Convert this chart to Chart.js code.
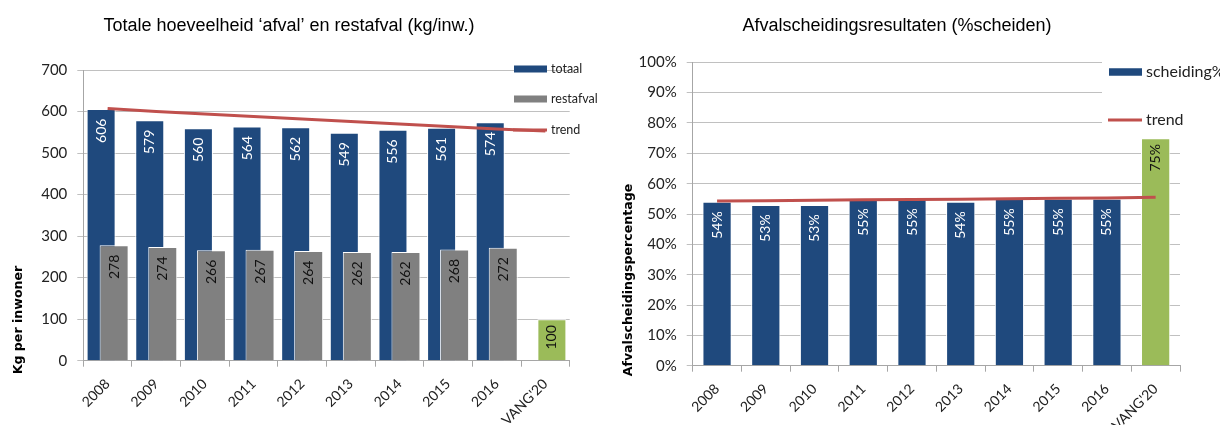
<!DOCTYPE html>
<html>
<head>
<meta charset="utf-8">
<script src="https://cdn.jsdelivr.net/npm/chart.js@4"></script>
<style>
  html, body { margin: 0; padding: 0; background: #ffffff; }
  #wrap { position: relative; width: 1220px; height: 425px; overflow: hidden; }
  .panel { position: absolute; top: 0; width: 610px; height: 425px; }
</style>
</head>
<body>
<div id="wrap">
  <div class="panel" style="left:0"><canvas id="kg" width="610" height="425"></canvas></div>
  <div class="panel" style="left:610px"><canvas id="pct" width="610" height="425"></canvas></div>
</div>
<script>
// Categories (years plus the VANG 2020 target)
const categories = ['2008', '2009', '2010', '2011', '2012', '2013', '2014', '2015', '2016', "VANG'20"];

// Left chart: kg per inhabitant
const totaal    = [606, 579, 560, 564, 562, 549, 556, 561, 574, null];
const restafval = [278, 274, 266, 267, 264, 262, 262, 268, 272, 100];
const trendKg   = [607, 600, 594, 588, 582, 576, 570, 564, 558, 553];
const kgTicks   = [0, 100, 200, 300, 400, 500, 600, 700];

// Right chart: separation percentage
const scheiding = [54, 53, 53, 55, 55, 54, 55, 55, 55, 75];
const trendPct  = [54.3, 54.4, 54.5, 54.7, 54.8, 54.9, 55.0, 55.2, 55.3, 55.5];
const pctTicks  = [0, 10, 20, 30, 40, 50, 60, 70, 80, 90, 100];

const BLUE = '#1F497D';
const GREY = '#808080';
const GREEN = '#9BBB59';
const RED = '#C0504D';
const GRID = '#C0C0C0';
const AXIS = '#A6A6A6';
const TEXT = '#222222';
const TARGET = "VANG'20";

const tickFont = { family: 'Lato', size: 15 };
const xFont = { family: 'Lato', size: 14, lineHeight: 0.8 };

// Title centred above each panel
function titlePlugin(text, cx) {
  return {
    id: 'panelTitle',
    afterDraw(chart) {
      const ctx = chart.ctx;
      ctx.save();
      ctx.font = '18px "Liberation Sans", Arial, sans-serif';
      ctx.fillStyle = '#000';
      ctx.textAlign = 'center';
      ctx.textBaseline = 'alphabetic';
      ctx.fillText(text, cx, 31);
      ctx.restore();
    }
  };
}

// Vertical axis title
function yTitlePlugin(text, cx, cy) {
  return {
    id: 'yTitle',
    afterDraw(chart) {
      const ctx = chart.ctx;
      ctx.save();
      ctx.translate(cx, cy);
      ctx.rotate(-Math.PI / 2);
      ctx.font = 'bold 12.6px "DejaVu Sans", sans-serif';
      ctx.fillStyle = '#000';
      ctx.textAlign = 'center';
      ctx.textBaseline = 'middle';
      ctx.fillText(text, 0, 0);
      ctx.restore();
    }
  };
}

// Rotated value labels inside the top of each bar
function barLabelPlugin(items) {
  return {
    id: 'barLabels',
    afterDatasetsDraw(chart) {
      const ctx = chart.ctx;
      items.forEach(({ index, suffix }) => {
        const meta = chart.getDatasetMeta(index);
        const data = chart.data.datasets[index].data;
        meta.data.forEach((el, i) => {
          const v = data[i];
          if (v === null || v === undefined) return;
          const isTarget = categories[i] === TARGET;
          const onBlue = !isTarget && chart.data.datasets[index].backgroundColor === BLUE;
          const gap = isTarget ? 6 : 9.5;
          ctx.save();
          ctx.translate(el.x, el.y + gap);
          ctx.rotate(-Math.PI / 2);
          ctx.font = '14px Lato, sans-serif';
          ctx.fillStyle = onBlue ? '#ffffff' : '#111111';
          ctx.textAlign = 'right';
          ctx.textBaseline = 'middle';
          ctx.fillText(String(v) + suffix, 0, 0);
          ctx.restore();
        });
      });
    }
  };
}

// Legend drawn inside the plot, at the right-hand side
function legendPlugin(entries, opts) {
  return {
    id: 'sideLegend',
    afterDraw(chart) {
      const ctx = chart.ctx;
      ctx.save();
      if (opts.background) {
        const b = opts.background;
        ctx.fillStyle = '#ffffff';
        ctx.fillRect(b.x, b.y, b.w, b.h);
      }
      ctx.font = opts.fontSize + 'px Lato, sans-serif';
      ctx.textAlign = 'left';
      ctx.textBaseline = 'middle';
      entries.forEach(e => {
        if (e.kind === 'box') {
          ctx.fillStyle = e.color;
          ctx.fillRect(opts.x, e.y - opts.boxH / 2, opts.boxW, opts.boxH);
        } else {
          ctx.strokeStyle = e.color;
          ctx.lineWidth = 3;
          ctx.beginPath();
          ctx.moveTo(opts.x - 1, e.y);
          ctx.lineTo(opts.x + opts.boxW, e.y);
          ctx.stroke();
        }
        ctx.fillStyle = TEXT;
        ctx.fillText(e.label, opts.x + opts.boxW + 4, e.y);
      });
      ctx.restore();
    }
  };
}

// Grey bars overlap the blue ones: draw them right after the blue series
const layerPlugin = {
  id: 'layering',
  beforeDatasetDraw(chart, args) {
    if (args.index === 1) return false;
  },
  afterDatasetDraw(chart, args) {
    if (args.index === 0) {
      chart.getDatasetMeta(1).controller.draw();
    }
  }
};

function xScale(height) {
  return {
    offset: true,
    grid: { offset: true, drawOnChartArea: false, tickLength: 6, color: AXIS },
    border: { color: AXIS },
    ticks: { minRotation: 45, maxRotation: 45, autoSkip: false, padding: 11, font: xFont, color: TEXT },
    afterFit(s) { s.height = height; }
  };
}

function yScale(ticks, width, fmt) {
  return {
    min: ticks[0],
    max: ticks[ticks.length - 1],
    grid: { color: GRID, tickLength: 6 },
    border: { color: AXIS },
    ticks: {
      stepSize: ticks[1] - ticks[0],
      padding: 10,
      font: tickFont,
      color: TEXT,
      callback: fmt
    },
    afterFit(s) { s.width = width; }
  };
}

new Chart(document.getElementById('kg'), {
  type: 'bar',
  data: {
    labels: categories,
    datasets: [
      {
        label: 'totaal', data: totaal, backgroundColor: BLUE,
        borderColor: '#ffffff', borderWidth: 1, order: 1,
        categoryPercentage: 0.535, barPercentage: 2.23
      },
      {
        label: 'restafval', data: restafval,
        backgroundColor: categories.map(c => c === TARGET ? GREEN : GREY),
        borderColor: '#ffffff', borderWidth: 1, order: 2,
        categoryPercentage: 0.535, barPercentage: 2.23
      },
      {
        type: 'line', label: 'trend', data: trendKg, borderColor: RED,
        borderWidth: 3, pointRadius: 0, tension: 0, order: 0
      }
    ]
  },
  options: {
    responsive: false,
    animation: false,
    layout: { padding: { top: 70, right: 40.3, left: 0, bottom: 0 } },
    plugins: { legend: { display: false }, tooltip: { enabled: false }, title: { display: false } },
    scales: {
      x: xScale(64.3),
      y: yScale(kgTicks, 83.3, v => String(v))
    }
  },
  plugins: [
    layerPlugin,
    barLabelPlugin([{ index: 0, suffix: '' }, { index: 1, suffix: '' }]),
    titlePlugin('Totale hoeveelheid \u2018afval\u2019 en restafval (kg/inw.)', 289),
    yTitlePlugin('Kg per inwoner', 18.3, 320),
    legendPlugin([
      { kind: 'box', color: BLUE, label: 'totaal', y: 69 },
      { kind: 'box', color: GREY, label: 'restafval', y: 99 },
      { kind: 'line', color: RED, label: 'trend', y: 130 }
    ], { x: 514, boxW: 33, boxH: 7, fontSize: 12.5 })
  ]
});

new Chart(document.getElementById('pct'), {
  type: 'bar',
  data: {
    labels: categories,
    datasets: [
      {
        label: 'scheiding%', data: scheiding,
        backgroundColor: categories.map(c => c === TARGET ? GREEN : BLUE),
        borderColor: '#ffffff', borderWidth: 1, order: 1,
        categoryPercentage: 1, barPercentage: 0.6
      },
      {
        type: 'line', label: 'trend', data: trendPct, borderColor: RED,
        borderWidth: 3, pointRadius: 0, tension: 0, order: 0
      }
    ]
  },
  options: {
    responsive: false,
    animation: false,
    layout: { padding: { top: 62.3, right: 40, left: 0, bottom: 0 } },
    plugins: { legend: { display: false }, tooltip: { enabled: false }, title: { display: false } },
    scales: {
      x: xScale(59.3),
      y: yScale(pctTicks, 82.7, v => v + '%')
    }
  },
  plugins: [
    {
      id: 'pctLabels',
      afterDatasetsDraw(chart) {
        const ctx = chart.ctx;
        const meta = chart.getDatasetMeta(0);
        meta.data.forEach((el, i) => {
          const v = scheiding[i];
          const isTarget = categories[i] === TARGET;
          ctx.save();
          ctx.translate(el.x, el.y + (isTarget ? 6 : 9.5));
          ctx.rotate(-Math.PI / 2);
          ctx.font = '14px Lato, sans-serif';
          ctx.fillStyle = isTarget ? '#111111' : '#ffffff';
          ctx.textAlign = 'right';
          ctx.textBaseline = 'middle';
          ctx.fillText(v + '%', 0, 0);
          ctx.restore();
        });
      }
    },
    titlePlugin('Afvalscheidingsresultaten (%scheiden)', 287),
    yTitlePlugin('Afvalscheidingspercentage', 18.3, 280),
    legendPlugin([
      { kind: 'box', color: BLUE, label: 'scheiding%', y: 72 },
      { kind: 'line', color: RED, label: 'trend', y: 120 }
    ], { x: 499, boxW: 33, boxH: 7.5, fontSize: 16, background: { x: 492, y: 52, w: 118, h: 85 } })
  ]
});
</script>
</body>
</html>
